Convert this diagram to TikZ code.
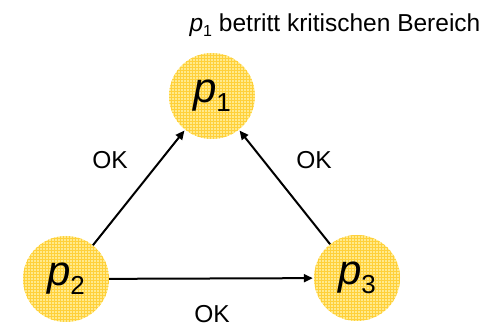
\documentclass[tikz,border=0pt]{standalone}
\usepackage{fontspec}
\setmainfont{Liberation Sans}
\usepackage{tikz}
\usetikzlibrary{arrows.meta, patterns, positioning}
\definecolor{procfill} {HTML}{FFEA8C}
\definecolor{procgrid} {HTML}{FFD03A}
\definecolor{darktext} {HTML}{000000}
\newcommand{\pname}[1]{\textit{p}\raisebox{-0.22em}{\fontsize{26}{26}\selectfont #1}}
\newcommand{\ptitle}[1]{\textit{p}\raisebox{-0.22em}{\fontsize{16}{16}\selectfont #1}}
\tikzset{
  procnode/.style={
    circle, minimum size=86pt, inner sep=0pt,
    fill=procfill, draw=none,
    postaction={pattern=grid, pattern color=procgrid},
    font=\fontsize{42}{42}\selectfont, text=darktext
  },
  msgarrow/.style={-{Triangle[length=9pt, width=8pt]}, line width=2pt, shorten >=1pt},
  oklabel/.style={font=\fontsize{24.5}{24.5}\selectfont, text=darktext}
}

\begin{document}
\begin{tikzpicture}[x=1pt, y=1pt]

  \useasboundingbox (0,0) rectangle (498,328);

  % processes
  \node[procnode] (p1) at (212,232) {\pname{1}};
  \node[procnode] (p2) at (66,49)   {\pname{2}};
  \node[procnode] (p3) at (357,50)  {\pname{3}};

  \node[oklabel] (title) at (335,303)
    {\ptitle{1} betritt kritischen Bereich};

  % replies
  \foreach \a/\b in {p2/p1, p3/p1, p2/p3}{
    \draw[msgarrow] (\a) -- (\b);
  }

  \node[oklabel] (okleft)   at (110,168) {OK};
  \node[oklabel] (okright)  at (314,168) {OK};
  \node[oklabel] (okbottom) at (212,14)  {OK};

\end{tikzpicture}
\end{document}
